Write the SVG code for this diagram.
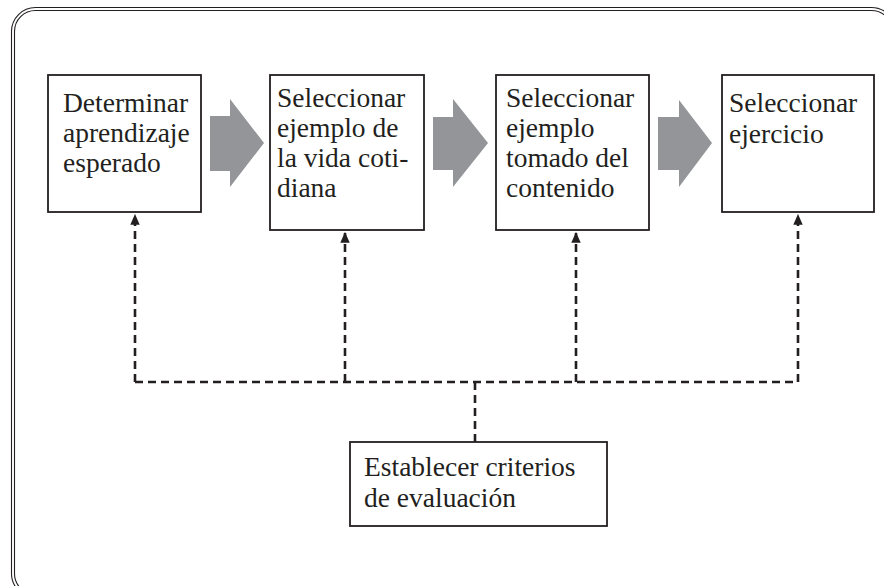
<svg xmlns="http://www.w3.org/2000/svg" width="884" height="586" viewBox="0 0 884 586">
<defs>
<style>
.frame{fill:none;stroke:#231f20;stroke-width:1.1}
.box{fill:#fff;stroke:#231f20;stroke-width:1.8}
.t{font-family:"Liberation Serif","Times New Roman",serif;font-size:27.5px;fill:#231f20}
.flow{fill:#939598}
.dash{fill:none;stroke:#231f20;stroke-width:2.6;stroke-dasharray:8 5}
</style>
<marker id="ah" viewBox="0 0 10 10" refX="9" refY="5" markerWidth="4.2" markerHeight="3.6" orient="auto" markerUnits="strokeWidth" preserveAspectRatio="none">
<path d="M0,0 L10,5 L0,10 Z" fill="#231f20"/>
</marker>
</defs>
<rect x="0" y="0" width="884" height="586" fill="#fff"/>
<g id="frame">
<rect class="frame" x="11.5" y="7.5" width="884" height="590" rx="24"/>
<rect class="frame" x="14.5" y="10.5" width="878" height="584" rx="21"/>
</g>
<g id="flow-arrows">
<path class="flow" d="M210,116 H230 V99 L264,143 L230,187 V171 H210 Z"/>
<path class="flow" d="M433,117 H453 V99 L488,143 L453,187 V170 H433 Z"/>
<path class="flow" d="M658,117 H679 V100 L712,143 L679,187 V170 H658 Z"/>
</g>
<g id="connectors">
<path class="dash" d="M475,442 V382"/>
<path class="dash" d="M135,382 H798"/>
<path class="dash" d="M135,382 V215" marker-end="url(#ah)"/>
<path class="dash" d="M345,382 V233" marker-end="url(#ah)"/>
<path class="dash" d="M576,382 V233" marker-end="url(#ah)"/>
<path class="dash" d="M798,382 V215" marker-end="url(#ah)"/>
</g>
<g id="n1">
<rect class="box" x="48" y="75" width="153" height="137"/>
<text class="t" x="63" y="112">Determinar</text>
<text class="t" x="63" y="142">aprendizaje</text>
<text class="t" x="63" y="172">esperado</text>
</g>
<g id="n2">
<rect class="box" x="270" y="75" width="154" height="155"/>
<text class="t" x="277" y="107">Seleccionar</text>
<text class="t" x="277" y="137">ejemplo de</text>
<text class="t" x="277" y="167">la vida coti-</text>
<text class="t" x="277" y="197">diana</text>
</g>
<g id="n3">
<rect class="box" x="496" y="75" width="153" height="155"/>
<text class="t" x="506" y="107">Seleccionar</text>
<text class="t" x="506" y="137">ejemplo</text>
<text class="t" x="506" y="167">tomado del</text>
<text class="t" x="506" y="197">contenido</text>
</g>
<g id="n4">
<rect class="box" x="722" y="75" width="152" height="137"/>
<text class="t" x="729" y="112">Seleccionar</text>
<text class="t" x="729" y="143">ejercicio</text>
</g>
<g id="n5">
<rect class="box" x="350" y="442" width="257" height="84"/>
<text class="t" x="364" y="476">Establecer criterios</text>
<text class="t" x="364" y="507">de evaluación</text>
</g>
</svg>
